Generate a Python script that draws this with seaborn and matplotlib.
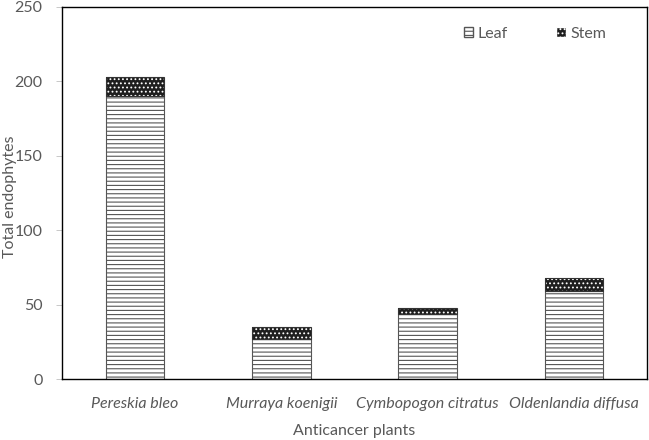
"""
Stacked bar chart: endophytes isolated from leaf and stem of anticancer plants.
"""
import matplotlib
matplotlib.use("Agg")
import matplotlib.pyplot as plt
import matplotlib.patches as mpatches
import seaborn as sns
import pandas as pd

plants = ["Pereskia bleo", "Murraya koenigii", "Cymbopogon citratus", "Oldenlandia diffusa"]
leaf = [190, 27, 44, 59]
stem = [13, 8, 4, 9]

TEXT = "#595959"
FS = 11.5

sns.set_theme(style="white")
plt.rcParams["font.family"] = ["Lato", "DejaVu Sans"]
plt.rcParams["hatch.linewidth"] = 0.8

df = pd.DataFrame({"plant": plants, "leaf": leaf, "stem": stem})

fig = plt.figure(figsize=(6.49, 4.40), dpi=100)
ax = fig.add_axes([0.0955, 0.1386, 0.9015, 0.8455])

# leaf part
sns.barplot(data=df, x="plant", y="leaf", color="white", width=0.4,
            edgecolor="#555555", linewidth=0.8, ax=ax)
leaf_bars = list(ax.patches)
for p in leaf_bars:
    p.set_hatch("----")

# stem part stacked on top
sns.barplot(data=df, x="plant", y="stem", bottom=df["leaf"], color="#1e1e1e",
            width=0.4, edgecolor="white", linewidth=0, ax=ax)
stem_bars = [p for p in ax.patches if p not in leaf_bars]
for p in stem_bars:
    p.set_hatch("....")
    ax.add_patch(mpatches.Rectangle(p.get_xy(), p.get_width(), p.get_height(),
                                    fill=False, edgecolor="#333333", linewidth=0.8))

ax.set_ylim(0, 250)
ax.set_xlim(-0.5, len(plants) - 0.5)
ax.set_yticks(range(0, 251, 50))
ax.set_xticks(range(len(plants)))
ax.set_xticklabels(plants, style="italic")
ax.set_xticks([i + 0.5 for i in range(len(plants) - 1)], minor=True)

ax.tick_params(axis="x", which="major", length=0, pad=13, labelsize=FS, colors=TEXT)
ax.tick_params(axis="x", which="minor", length=4, width=0.6, color="#bfbfbf", direction="out")
ax.tick_params(axis="y", length=4, width=0.6, color="#bfbfbf", direction="out",
               pad=10, labelsize=FS, labelcolor=TEXT, left=True)

for s in ax.spines.values():
    s.set_visible(True)
    s.set_color("black")
    s.set_linewidth(1.0)

ax.set_xlabel("Anticancer plants", fontsize=FS, color=TEXT, labelpad=9)
ax.set_ylabel("Total endophytes", fontsize=FS, color=TEXT)
ax.yaxis.set_label_coords(-0.077, 0.49)

handles = [
    mpatches.Patch(facecolor="white", edgecolor="#555555", hatch="----", label="Leaf"),
    mpatches.Patch(facecolor="#1e1e1e", edgecolor="white", hatch="....", label="Stem"),
]
leg = ax.legend(handles=handles, loc="upper right", bbox_to_anchor=(0.955, 0.985),
                ncol=2, frameon=False, fontsize=FS, handlelength=0.6,
                handleheight=0.6, handletextpad=0.3, columnspacing=3.0)
for t in leg.get_texts():
    t.set_color(TEXT)

fig.savefig("out.png", dpi=100)
